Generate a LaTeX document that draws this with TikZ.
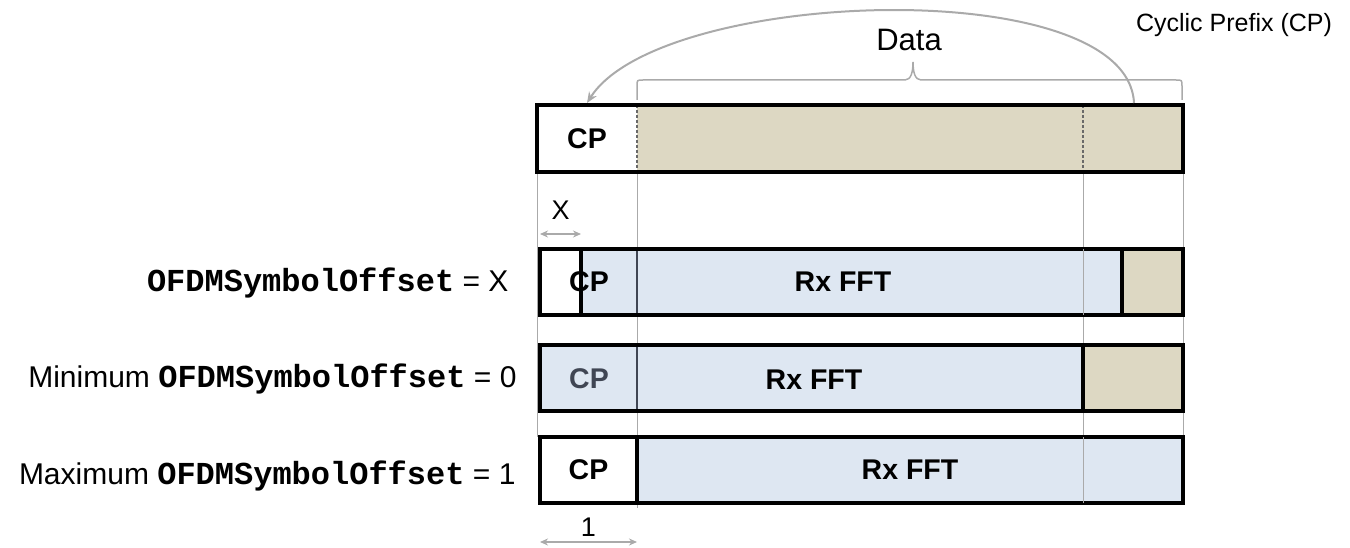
\documentclass[tikz,border=0pt]{standalone}
\usepackage{fontspec}
\setmainfont{Liberation Sans}
\newfontfamily\codefont{Liberation Mono}
\usetikzlibrary{arrows.meta,positioning,backgrounds}

\definecolor{datatan}{RGB}{221,216,195}
\definecolor{fftblue}{RGB}{222,231,242}
\definecolor{guidegray}{RGB}{170,170,170}
\definecolor{dashgray}{RGB}{105,105,105}
\definecolor{slate}{RGB}{64,70,84}

\newcommand{\offsetname}{{\codefont\bfseries\fontsize{32}{36}\selectfont OFDMSymbolOffset}}

\tikzset{
  seg/.style      = {draw, line width=3.3pt, inner sep=0pt, outer sep=0pt, minimum height=66pt},
  cptext/.style   = {font=\fontsize{28.5}{32}\selectfont\bfseries},
  rowlabel/.style = {anchor=base east, font=\fontsize{30}{36}\selectfont},
  dimtext/.style  = {font=\fontsize{27}{30}\selectfont},
  guide/.style    = {draw=guidegray, line width=1pt},
  cpline/.style   = {draw=slate, line width=2.2pt, shorten <=1.6pt, shorten >=1.6pt},
  cpdash/.style   = {draw=dashgray, line width=2.4pt, dash pattern=on 3pt off 2pt},
  dim/.style      = {draw=guidegray, line width=1.5pt, >={Stealth[length=8pt,width=7pt]}, <->},
  copyarc/.style  = {draw=guidegray, line width=2pt, -{Stealth[length=11pt,width=9pt]}}
}

\begin{document}
\begin{tikzpicture}[x=1pt, y=-1pt]
\useasboundingbox (0,0) rectangle (1350,548);

% columns: end of the CP and start of the copied tail
\coordinate (cpend) at (637,0);
\coordinate (tailstart) at (1083,0);

% transmitted OFDM symbol
\node[seg, draw=none, fill=white, minimum width=100pt, minimum height=67pt, anchor=north west] (cp0) at (537,105) {};
\node[seg, draw=none, fill=datatan, minimum width=546pt, minimum height=67pt, right=0pt of cp0] (data0) {};
\node[cptext] (cptx0) at (cp0) {CP};
\draw[cpdash] (cp0.north east) -- (cp0.south east);
\draw[cpdash] (tailstart |- data0.north) -- (tailstart |- data0.south);
\draw[line width=3.3pt] (cp0.north west) rectangle (data0.south east);

% brace over the data part
\draw[guide, line width=1.5pt] (637,100) -- (637,86) .. controls (637,80) .. (643,80) -- (905,80)
  .. controls (911,80) and (913,72) .. (913,62) .. controls (913,72) and (915,80) .. (921,80)
  -- (1176,80) .. controls (1182,80) .. (1182,86) -- (1182,100);
\node[font=\fontsize{31}{36}\selectfont] (datalbl) at (909,40) {Data};
\node[font=\fontsize{25}{28}\selectfont] (cplbl) at (1234,25) {Cyclic Prefix (CP)};

% tail copied to the front
\coordinate (cpsrc) at (1134,103);
\draw[copyarc] (cpsrc) .. controls (1128,-28) and (660,-12) .. ([yshift=2pt]cp0.north);

% OFDMSymbolOffset = X
\node[seg, fill=white, minimum width=41pt, anchor=north west] (pre1) at (540,249) {};
\node[seg, fill=fftblue, minimum width=541pt, right=0pt of pre1] (fft1) {};
\node[seg, fill=datatan, minimum width=61pt, right=0pt of fft1] (tail1) {};
\draw[cpline] (cpend |- fft1.north) -- (cpend |- fft1.south);
\draw[guide] (tailstart |- fft1.north) -- (tailstart |- fft1.south);
\node[cptext] (cptx1) at (589,282) {CP};
\node[cptext] (rx1) at (843,282) {Rx FFT};
\node[rowlabel] (lab1) at (512,291) {\offsetname{} = X};
\draw[dim] ([yshift=15pt]pre1.north west) -- ([yshift=15pt]pre1.north east);
\node[dimtext] (xlbl) at ([yshift=39pt]pre1.north) {X};

% minimum offset
\node[seg, fill=fftblue, minimum width=543pt, anchor=north west] (fft2) at (540,345) {};
\node[seg, fill=datatan, minimum width=100pt, right=0pt of fft2] (tail2) {};
\draw[cpline] (cpend |- fft2.north) -- (cpend |- fft2.south);
\node[cptext, text=slate] (cptx2) at (589,379) {CP};
\node[cptext] (rx2) at (814,380) {Rx FFT};
\node[rowlabel] (lab2) at (520,387) {Minimum \offsetname{} = 0};

% maximum offset
\node[seg, cptext, fill=white, minimum width=97pt, anchor=north west] (cp3) at (540,437) {CP};
\node[seg, cptext, fill=fftblue, minimum width=546pt, right=0pt of cp3] (fft3) {Rx FFT};
\draw[guide] (tailstart |- fft3.north) -- (tailstart |- fft3.south);
\node[rowlabel] (lab3) at (519,484) {Maximum \offsetname{} = 1};
\draw[dim] ([yshift=-39pt]cp3.south west) -- ([yshift=-39pt]cp3.south east);
\node[dimtext] (onelbl) at ([yshift=-24pt]cp3.south) {1};

% thin guide lines behind the boxes
\begin{scope}[on background layer]
\draw[guide] (cp0.south west) -- (cp0.south west |- fft3.north);
\draw[guide] (cpend |- cp0.south) -- ([yshift=-5pt]cp3.south east);
\draw[guide] (tailstart |- cp0.south) -- (tailstart |- fft3.south);
\draw[guide] (data0.south east) -- (data0.south east |- fft3.north);
\end{scope}
\end{tikzpicture}
\end{document}
